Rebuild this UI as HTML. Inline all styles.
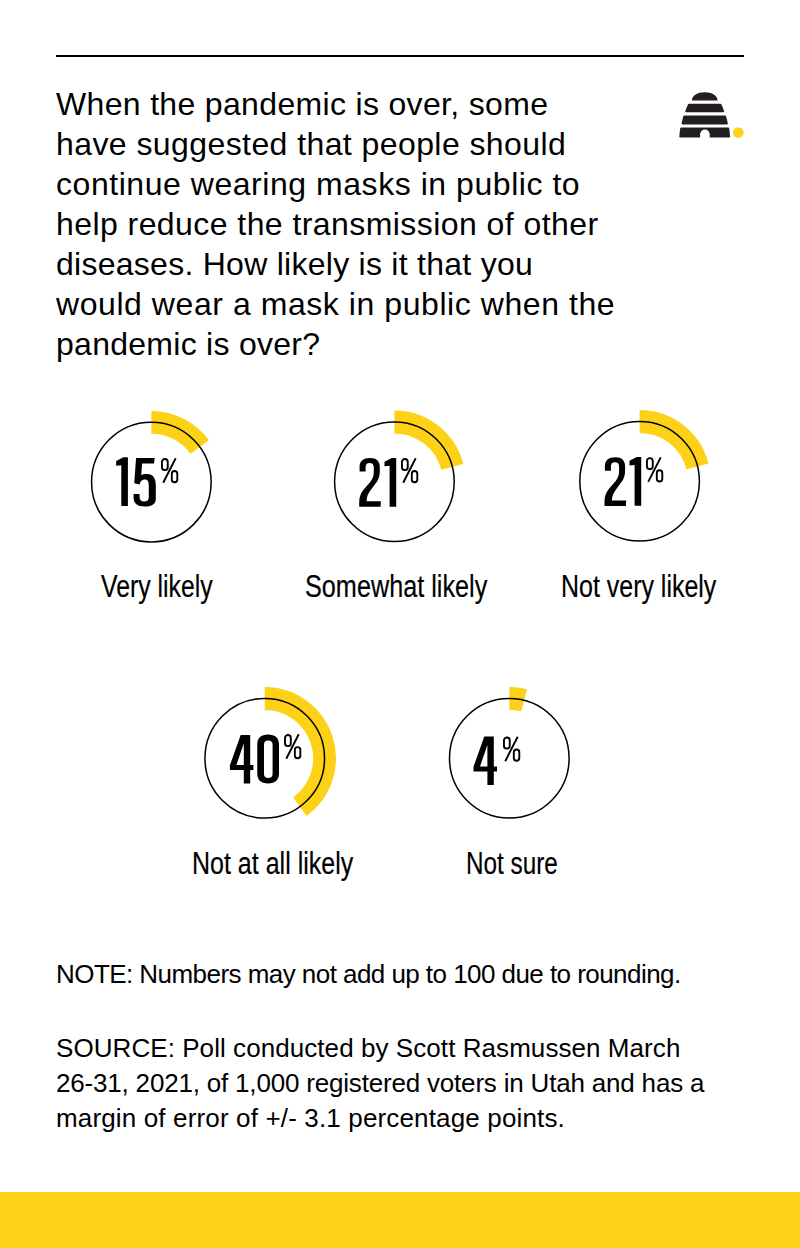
<!DOCTYPE html>
<html><head><meta charset="utf-8">
<style>
html,body{margin:0;padding:0;background:#fff;}
body{width:800px;height:1248px;position:relative;overflow:hidden;font-family:"Liberation Sans",sans-serif;color:#000;}
.rule{position:absolute;left:56px;top:55px;width:688px;height:2px;background:#000;}
.ql{position:absolute;left:56px;font-size:32px;line-height:40px;height:40px;white-space:nowrap;}
.nl{position:absolute;left:56px;font-size:26px;line-height:35px;height:35px;white-space:nowrap;}
.lab{position:absolute;white-space:nowrap;transform-origin:0 0;font-size:31px;line-height:31px;color:#000;-webkit-text-stroke:0.2px #000;}
.bar{position:absolute;left:0;top:1192px;width:800px;height:56px;background:#FDD116;}
</style></head>
<body>
<div class="rule"></div>
<div class="ql" style="top:84.1px;letter-spacing:0.333px">When the pandemic is over, some</div>
<div class="ql" style="top:124.1px;letter-spacing:0.419px">have suggested that people should</div>
<div class="ql" style="top:164.1px;letter-spacing:0.544px">continue wearing masks in public to</div>
<div class="ql" style="top:204.1px;letter-spacing:0.433px">help reduce the transmission of other</div>
<div class="ql" style="top:244.1px;letter-spacing:0.265px">diseases. How likely is it that you</div>
<div class="ql" style="top:284.1px;letter-spacing:0.56px">would wear a mask in public when the</div>
<div class="ql" style="top:324.1px;letter-spacing:0.275px">pandemic is over?</div>
<div class="nl" style="top:956.8px;letter-spacing:-0.55px">NOTE: Numbers may not add up to 100 due to rounding.</div>
<div class="nl" style="top:1031.2px;letter-spacing:0.065px">SOURCE: Poll conducted by Scott Rasmussen March</div>
<div class="nl" style="top:1066.2px;letter-spacing:-0.19px">26-31, 2021, of 1,000 registered voters in Utah and has a</div>
<div class="nl" style="top:1101.2px;letter-spacing:0.15px">margin of error of +/- 3.1 percentage points.</div>
<div class="lab" style="left:100.9px;top:570.6px;transform:scaleX(0.8007)">Very likely</div>
<div class="lab" style="left:304.69px;top:570.6px;transform:scaleX(0.8139)">Somewhat likely</div>
<div class="lab" style="left:561.49px;top:570.6px;transform:scaleX(0.8052)">Not very likely</div>
<div class="lab" style="left:191.94px;top:848.0px;transform:scaleX(0.8068)">Not at all likely</div>
<div class="lab" style="left:466.03px;top:848.0px;transform:scaleX(0.7843)">Not sure</div>
<svg class="chart" width="800" height="1248" viewBox="0 0 800 1248" style="position:absolute;left:0;top:0" fill="#000">

<g><path d="M688.98,104.75 L688.52,105.69 L688.10,106.62 L687.70,107.56 L687.32,108.49 L686.96,109.43 L686.59,110.36 L686.22,111.30 L723.18,111.30 L722.81,110.36 L722.44,109.43 L722.08,108.49 L721.70,107.56 L721.30,106.62 L720.88,105.69 L720.42,104.75 Z" fill="#231f20" stroke="#231f20" stroke-width="2.0" stroke-linejoin="round"/><path d="M684.29,116.45 L684.03,117.44 L683.78,118.44 L683.53,119.43 L683.29,120.42 L683.05,121.41 L682.81,122.41 L682.56,123.40 L726.84,123.40 L726.59,122.41 L726.35,121.41 L726.11,120.42 L725.87,119.43 L725.62,118.44 L725.37,117.44 L725.11,116.45 Z" fill="#231f20" stroke="#231f20" stroke-width="2.0" stroke-linejoin="round"/><path d="M681.16,128.60 L681.02,129.73 L680.89,130.86 L680.76,131.99 L680.65,133.11 L680.53,134.24 L680.42,135.37 L680.30,136.50 L729.10,136.50 L728.98,135.37 L728.87,134.24 L728.75,133.11 L728.64,131.99 L728.51,130.86 L728.38,129.73 L728.24,128.60 Z" fill="#231f20" stroke="#231f20" stroke-width="2.0" stroke-linejoin="round"/><path d="M691.9,100.6 C691.9,95.4 697.5,92.3 704.7,92.3 C711.9,92.3 717.5,95.4 717.5,100.6 Z" fill="#231f20"/><path d="M700.1,138 L700.1,134.3 A4.8,4.8 0 0 1 709.7,134.3 L709.7,138 Z" fill="#fff"/></g>
<circle cx="738.4" cy="132.5" r="5.3" fill="#FDD116"/>
<path d="M151.35,422.30 A59.8,59.8 0 0 1 199.73,446.95" fill="none" stroke="#FDD116" stroke-width="22.8"/>
<circle cx="151.35" cy="482.1" r="59.8" fill="none" stroke="#000" stroke-width="1.5"/>
<g transform="translate(116.2,457.25)"><path d="M7.2,0 L11.7,0 L11.7,48.75 L5.1,48.75 L5.1,7.95 L0,8.4 L0,3.75 Z"/></g>
<g transform="translate(133.6,458.0)"><path d="M2.45,0 L21.06,0 L20.39,5.6 L8.5,5.6 L7.6,17.2 C9,16.4 11,16.1 13.4,16.1 C19.5,16.1 22.2,20.5 22.2,27.4 L22.2,40.7 C22.2,45.8 18.6,48.5 11.2,48.5 C3.8,48.5 0,45 0,40 L0,35.9 L6.0,35.9 L6.0,39.5 C6.0,42.2 8,43.5 10.6,43.5 C13.4,43.5 15.2,42 15.2,39 L15.2,27.6 C15.2,23.4 13.8,21.6 11.2,21.6 C8.5,21.6 6.8,23.3 6.0,26.4 L0.66,25.3 Z"/></g>
<g transform="translate(161.0,458.0)"><g fill="none" stroke="#000" stroke-width="1.9"><rect x="0.95" y="0.95" width="5.8" height="11.1" rx="2.9"/><rect x="10.8" y="13.05" width="5.5" height="11.2" rx="2.75"/><line x1="14.7" y1="0.2" x2="2.2" y2="24.7"/></g></g>
<path d="M394.40,422.00 A59.8,59.8 0 0 1 452.32,466.93" fill="none" stroke="#FDD116" stroke-width="22.8"/>
<circle cx="394.4" cy="481.8" r="59.8" fill="none" stroke="#000" stroke-width="1.5"/>
<g transform="translate(359.2,457.9)"><path d="M0.38,8.9 C0.38,3.0 4.2,0 10.8,0 C17.4,0 20.6,3.2 20.6,9.2 L20.6,13.5 C20.6,17.5 19.6,20.3 18.2,23 L11.5,32.2 C9.2,35.5 7.4,38.6 7.4,43.25 L21.65,43.25 L21.4,48.8 L0,48.8 L0,44 C0,39 1.6,35.2 4.5,31.5 L11.4,23.5 C13.6,20.6 14.6,18 14.6,13.5 L14.6,9.5 C14.6,6.2 13.2,5.0 10.4,5.0 C7.8,5.0 6.4,6.4 6.4,9.5 L6.4,13.6 L0.38,13.6 Z"/></g>
<g transform="translate(384.5,457.9)"><path d="M7.2,0 L11.7,0 L11.7,48.75 L5.1,48.75 L5.1,7.95 L0,8.4 L0,3.75 Z"/></g>
<g transform="translate(401.0,458.0)"><g fill="none" stroke="#000" stroke-width="1.9"><rect x="0.95" y="0.95" width="5.8" height="11.1" rx="2.9"/><rect x="10.8" y="13.05" width="5.5" height="11.2" rx="2.75"/><line x1="14.7" y1="0.2" x2="2.2" y2="24.7"/></g></g>
<path d="M639.60,421.50 A59.8,59.8 0 0 1 697.52,466.43" fill="none" stroke="#FDD116" stroke-width="22.8"/>
<circle cx="639.6" cy="481.3" r="59.8" fill="none" stroke="#000" stroke-width="1.5"/>
<g transform="translate(604.5,457.2)"><path d="M0.38,8.9 C0.38,3.0 4.2,0 10.8,0 C17.4,0 20.6,3.2 20.6,9.2 L20.6,13.5 C20.6,17.5 19.6,20.3 18.2,23 L11.5,32.2 C9.2,35.5 7.4,38.6 7.4,43.25 L21.65,43.25 L21.4,48.8 L0,48.8 L0,44 C0,39 1.6,35.2 4.5,31.5 L11.4,23.5 C13.6,20.6 14.6,18 14.6,13.5 L14.6,9.5 C14.6,6.2 13.2,5.0 10.4,5.0 C7.8,5.0 6.4,6.4 6.4,9.5 L6.4,13.6 L0.38,13.6 Z"/></g>
<g transform="translate(629.5,457.0)"><path d="M7.2,0 L11.7,0 L11.7,48.75 L5.1,48.75 L5.1,7.95 L0,8.4 L0,3.75 Z"/></g>
<g transform="translate(646.0,457.2)"><g fill="none" stroke="#000" stroke-width="1.9"><rect x="0.95" y="0.95" width="5.8" height="11.1" rx="2.9"/><rect x="10.8" y="13.05" width="5.5" height="11.2" rx="2.75"/><line x1="14.7" y1="0.2" x2="2.2" y2="24.7"/></g></g>
<path d="M264.75,698.50 A59.8,59.8 0 0 1 299.90,806.68" fill="none" stroke="#FDD116" stroke-width="22.8"/>
<circle cx="264.75" cy="758.3" r="59.8" fill="none" stroke="#000" stroke-width="1.5"/>
<g transform="translate(229.9,734.9)"><path fill-rule="evenodd" d="M10.8,0 L20.3,0 L20.3,30 L23.5,30 L23.5,35.2 L20.3,35.2 L20.3,48.5 L13.9,48.5 L13.9,35.2 L0,35.2 L0,30.4 Z M6.5,30 L13.9,30 L13.9,8.6 Z"/></g>
<g transform="translate(257.25,734.5)"><path fill-rule="evenodd" d="M0,10 C0,3.5 3.8,0 10.9,0 C18,0 21.75,3.5 21.75,10 L21.75,38.9 C21.75,45.4 18,48.9 10.9,48.9 C3.8,48.9 0,45.4 0,38.9 Z M6.75,10 C6.75,7.3 8.2,6 10.9,6 C13.8,6 15.35,7.3 15.35,10 L15.35,39.4 C15.35,42.2 13.8,43.5 10.9,43.5 C8.2,43.5 6.75,42.2 6.75,39.4 Z"/></g>
<g transform="translate(284.06,734.06)"><g fill="none" stroke="#000" stroke-width="1.9"><rect x="0.95" y="0.95" width="5.8" height="11.1" rx="2.9"/><rect x="10.8" y="13.05" width="5.5" height="11.2" rx="2.75"/><line x1="14.7" y1="0.2" x2="2.2" y2="24.7"/></g></g>
<path d="M509.30,698.40 A59.8,59.8 0 0 1 524.17,700.28" fill="none" stroke="#FDD116" stroke-width="22.8"/>
<circle cx="509.3" cy="758.2" r="59.8" fill="none" stroke="#000" stroke-width="1.5"/>
<g transform="translate(473.5,736.4)"><path fill-rule="evenodd" d="M10.8,0 L20.3,0 L20.3,30 L23.5,30 L23.5,35.2 L20.3,35.2 L20.3,48.5 L13.9,48.5 L13.9,35.2 L0,35.2 L0,30.4 Z M6.5,30 L13.9,30 L13.9,8.6 Z"/></g>
<g transform="translate(503.0,736.5)"><g fill="none" stroke="#000" stroke-width="1.9"><rect x="0.95" y="0.95" width="5.8" height="11.1" rx="2.9"/><rect x="10.8" y="13.05" width="5.5" height="11.2" rx="2.75"/><line x1="14.7" y1="0.2" x2="2.2" y2="24.7"/></g></g>
</svg>
<div class="bar"></div>
</body></html>
